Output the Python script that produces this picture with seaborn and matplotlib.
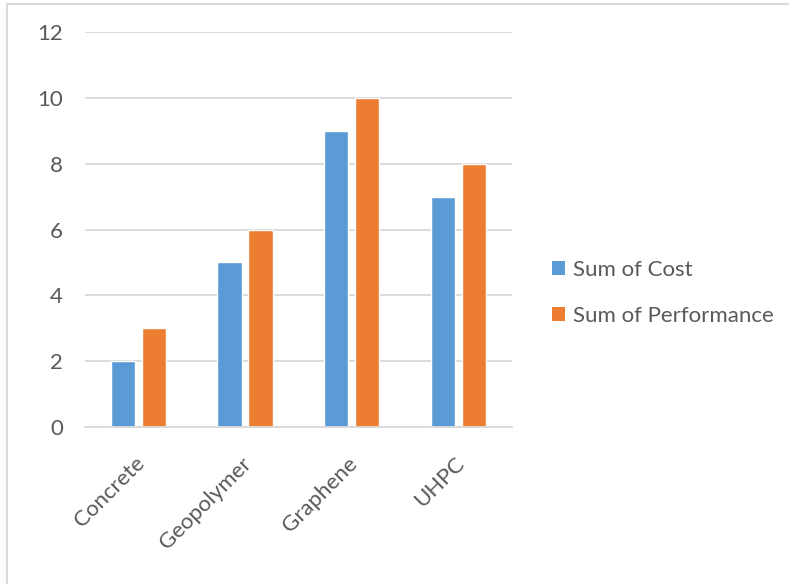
import matplotlib
matplotlib.use("Agg")
import matplotlib.pyplot as plt
import matplotlib.transforms as mtransforms
import seaborn as sns
import pandas as pd
from matplotlib.patches import Rectangle, Patch

categories = ["Concrete", "Geopolymer", "Graphene", "UHPC"]
cost = [2, 5, 9, 7]
performance = [3, 6, 10, 8]
series_names = ["Sum of Cost", "Sum of Performance"]
colors = ["#5B9BD5", "#ED7D31"]
yticks = [0, 2, 4, 6, 8, 10, 12]

df = pd.DataFrame({
    "Material": categories * 2,
    "Series": [series_names[0]] * len(categories) + [series_names[1]] * len(categories),
    "Value": cost + performance,
})

sns.set_theme(style="white")
plt.rcParams["font.family"] = ["Lato", "DejaVu Sans"]
text_color = "#595959"
grid_color = "#D9D9D9"

W, H = 789, 584
fig = plt.figure(figsize=(W / 100, H / 100), dpi=100)
ax = fig.add_axes([85 / W, 1 - 427 / H, (511.7 - 85) / W, (427 - 32) / H])

sns.barplot(data=df, x="Material", y="Value", hue="Series", palette=colors,
            width=0.58, gap=0.22, ax=ax, legend=False, saturation=1)

ax.set_ylim(0, 12)
ax.set_xlim(-0.5, len(categories) - 0.5)
ax.set_yticks(yticks)
ax.set_yticklabels([str(v) for v in yticks])
ax.yaxis.grid(True, color=grid_color, linewidth=1.3)
ax.set_axisbelow(True)
for s in ["top", "right", "left"]:
    ax.spines[s].set_visible(False)
ax.spines["bottom"].set_color(grid_color)
ax.spines["bottom"].set_linewidth(1.3)
ax.set_xlabel("")
ax.set_ylabel("")
ax.tick_params(axis="y", length=0, pad=16, labelsize=16, labelcolor=text_color)
ax.tick_params(axis="x", length=0, pad=24, labelsize=16, labelcolor=text_color)
shift = mtransforms.ScaledTranslation(3 / 100, 0, fig.dpi_scale_trans)
for lbl in ax.get_xticklabels():
    lbl.set_rotation(45)
    lbl.set_ha("right")
    lbl.set_va("center")
    lbl.set_rotation_mode("anchor")
    lbl.set_transform(lbl.get_transform() + shift)

handles = [Patch(facecolor=c, edgecolor="none") for c in colors]
leg = fig.legend(handles, series_names, loc="center left",
                 bbox_to_anchor=(552 / W, 1 - 293 / H), frameon=False,
                 fontsize=16, labelcolor=text_color, handlelength=0.6,
                 handleheight=0.6, handletextpad=0.35, labelspacing=1.15,
                 borderaxespad=0, borderpad=0)

fig.patches.append(Rectangle((7 / W, -0.1), 1.2, (1 - 4 / H) + 0.1,
                             transform=fig.transFigure, fill=False,
                             edgecolor="#D9D9D9", linewidth=1.5))

fig.savefig("out.png", dpi=100)
